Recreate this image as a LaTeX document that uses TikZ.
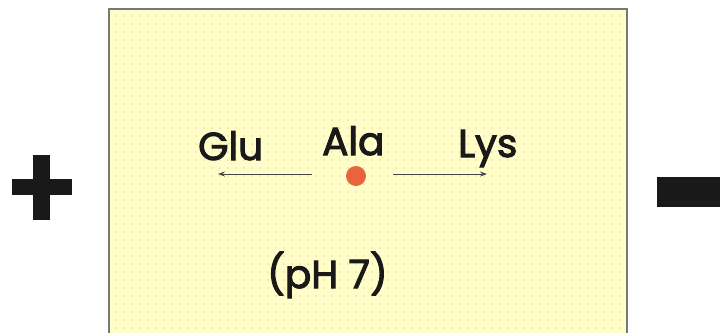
\documentclass[tikz,border=0pt]{standalone}
\usepackage{fontspec}
\setmainfont{Poppins}
\newfontfamily\lblfont{Poppins}[FakeBold=2.6]
\usetikzlibrary{arrows.meta}
\definecolor{boxfill}{RGB}{255,253,200}
\definecolor{gridpink}{RGB}{248,205,165}
\definecolor{boxedge}{RGB}{120,120,120}
\definecolor{ink}{RGB}{25,25,25}
\definecolor{dotred}{RGB}{232,100,60}
\tikzset{
  lbl/.style={anchor=base west, inner sep=0pt, font=\lblfont\fontsize{39}{42}\selectfont, text=ink},
  mig/.style={draw=ink!80, line width=1pt, -{Stealth[length=7pt,width=5pt]}},
}
\begin{document}
\begin{tikzpicture}[x=1pt,y=-1pt]
\useasboundingbox (0,0) rectangle (722,332);
\fill[white] (0,0) rectangle (722,332);
\begin{scope}
\clip (0,0) rectangle (722,332);
\fill[boxfill] (109,9) rectangle (627,340);
\foreach \i in {0,...,63}{
  \foreach \j in {0,...,40}{
    \fill[gridpink] (116+\i*8,16+\j*8) circle (0.8);
  }
}
\draw[boxedge, line width=1.6pt] (109,340) -- (109,9) -- (627,9) -- (627,340);
\end{scope}
% plus sign
\fill[ink] (33,155) rectangle (50,220);
\fill[ink] (12,179) rectangle (72,195);
% minus sign
\fill[ink] (657,177) rectangle (720,207);
% labels
\node[lbl] (glu) at (198,160) {Glu};
\node[lbl] (ala) at (322,155) {Ala};
\node[lbl] (lys) at (458,157) {Lys};
\node[lbl] (ph) at (267,288) {(pH 7)};
% Ala spot
\node[circle, fill=dotred, minimum size=20pt, inner sep=0pt] (spot) at (356,176) {};
\coordinate (lstart) at (312,174);
\coordinate (lend) at (218,174);
\coordinate (rstart) at (393,174);
\coordinate (rend) at (487,174);
\draw[mig] (lstart) -- (lend);
\draw[mig] (rstart) -- (rend);
\end{tikzpicture}
\end{document}
